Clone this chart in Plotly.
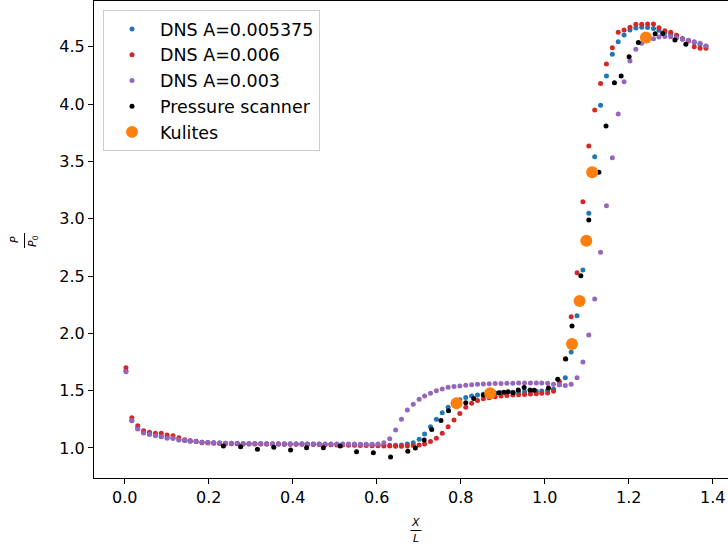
import plotly.graph_objects as go

# Shared DNS x grid (X/L)
dns_x = [0.003, 0.017, 0.031, 0.045, 0.059, 0.073, 0.087, 0.101, 0.115, 0.129,
         0.143, 0.156, 0.170, 0.184, 0.198, 0.212, 0.226, 0.240, 0.254, 0.268,
         0.282, 0.296, 0.310, 0.324, 0.338, 0.352, 0.366, 0.380, 0.394, 0.408,
         0.422, 0.435, 0.449, 0.463, 0.477, 0.491, 0.505, 0.519, 0.533, 0.547,
         0.561, 0.575, 0.589, 0.603, 0.617, 0.631, 0.645, 0.659, 0.673, 0.687,
         0.701, 0.714, 0.728, 0.742, 0.756, 0.770, 0.784, 0.798, 0.812, 0.826,
         0.840, 0.854, 0.868, 0.882, 0.896, 0.910, 0.924, 0.938, 0.952, 0.966,
         0.980, 0.993, 1.007, 1.021, 1.035, 1.049, 1.063, 1.077, 1.091, 1.105,
         1.119, 1.133, 1.147, 1.161, 1.175, 1.189, 1.203, 1.217, 1.231, 1.245,
         1.259, 1.272, 1.286, 1.300, 1.314, 1.328, 1.342, 1.356, 1.370, 1.384]

dns_a0053_y = [1.67, 1.24, 1.17, 1.135, 1.12, 1.11, 1.10, 1.09, 1.085, 1.072,
               1.065, 1.06, 1.055, 1.05, 1.047, 1.045, 1.043, 1.04, 1.04, 1.038,
               1.037, 1.037, 1.036, 1.036, 1.035, 1.035, 1.035, 1.035, 1.034, 1.034,
               1.034, 1.033, 1.033, 1.033, 1.032, 1.032, 1.032, 1.031, 1.03, 1.03,
               1.029, 1.028, 1.027, 1.026, 1.025, 1.024, 1.024, 1.026, 1.033, 1.045,
               1.075, 1.121, 1.185, 1.25, 1.307, 1.355, 1.395, 1.42, 1.44, 1.453,
               1.462, 1.469, 1.474, 1.478, 1.481, 1.484, 1.486, 1.488, 1.49, 1.492,
               1.494, 1.497, 1.502, 1.515, 1.55, 1.613, 1.837, 2.154, 2.552, 3.047,
               3.541, 3.99, 4.245, 4.434, 4.545, 4.603, 4.647, 4.665, 4.67, 4.668,
               4.66, 4.645, 4.625, 4.607, 4.59, 4.572, 4.555, 4.538, 4.522, 4.505]

dns_a006_y = [1.70, 1.263, 1.194, 1.15, 1.136, 1.127, 1.127, 1.113, 1.107, 1.089,
              1.072, 1.062, 1.058, 1.045, 1.042, 1.04, 1.038, 1.037, 1.036, 1.036,
              1.035, 1.035, 1.034, 1.034, 1.034, 1.033, 1.033, 1.032, 1.032, 1.031,
              1.031, 1.03, 1.03, 1.029, 1.028, 1.027, 1.026, 1.025, 1.024, 1.022,
              1.021, 1.02, 1.019, 1.018, 1.017, 1.016, 1.015, 1.015, 1.016, 1.02,
              1.025, 1.035, 1.055, 1.085, 1.127, 1.185, 1.243, 1.30, 1.355, 1.39,
              1.413, 1.428, 1.438, 1.446, 1.452, 1.457, 1.461, 1.464, 1.467, 1.47,
              1.473, 1.476, 1.48, 1.495, 1.58, 1.778, 2.145, 2.529, 3.148, 3.634,
              3.948, 4.18, 4.35, 4.492, 4.627, 4.647, 4.67, 4.696, 4.696, 4.699,
              4.699, 4.667, 4.64, 4.627, 4.60, 4.568, 4.55, 4.50, 4.487, 4.487]

dns_a003_y = [1.665, 1.237, 1.165, 1.13, 1.119, 1.107, 1.098, 1.084, 1.084, 1.069,
              1.065, 1.058, 1.055, 1.05, 1.048, 1.045, 1.043, 1.041, 1.04, 1.04,
              1.039, 1.039, 1.038, 1.038, 1.038, 1.037, 1.037, 1.037, 1.036, 1.036,
              1.036, 1.035, 1.035, 1.035, 1.035, 1.034, 1.034, 1.034, 1.033, 1.033,
              1.032, 1.031, 1.031, 1.034, 1.045, 1.08, 1.157, 1.25, 1.33, 1.38,
              1.424, 1.453, 1.476, 1.499, 1.514, 1.529, 1.536, 1.541, 1.546, 1.55,
              1.555, 1.558, 1.56, 1.562, 1.563, 1.565, 1.565, 1.566, 1.566, 1.566,
              1.566, 1.566, 1.565, 1.555, 1.55, 1.545, 1.556, 1.613, 1.75, 1.985,
              2.30, 2.707, 3.113, 3.532, 3.914, 4.196, 4.376, 4.478, 4.53, 4.555,
              4.57, 4.585, 4.59, 4.587, 4.58, 4.567, 4.557, 4.545, 4.53, 4.507]

scanner_x = [0.235, 0.276, 0.316, 0.355, 0.395, 0.433, 0.473, 0.513, 0.552, 0.592,
             0.633, 0.674, 0.692, 0.713, 0.731, 0.753, 0.771, 0.812, 0.831, 0.854,
             0.872, 0.891, 0.903, 0.913, 0.925, 0.937, 0.951, 0.965, 0.975, 1.009,
             1.031, 1.050, 1.065, 1.086, 1.105, 1.129, 1.146, 1.166, 1.182, 1.201,
             1.223, 1.263, 1.281, 1.310, 1.336]
scanner_y = [1.017, 1.010, 0.988, 1.005, 0.982, 1.002, 1.002, 1.017, 0.967, 0.958,
             0.920, 0.970, 1.000, 1.069, 1.160, 1.240, 1.325, 1.395, 1.430, 1.462,
             1.472, 1.482, 1.485, 1.490, 1.482, 1.505, 1.527, 1.505, 1.502, 1.523,
             1.600, 1.775, 2.064, 2.503, 2.988, 3.405, 3.809, 4.187, 4.245, 4.414,
             4.537, 4.615, 4.617, 4.559, 4.522]

kulite_x = [0.790, 0.870, 1.065, 1.083, 1.099, 1.113, 1.241]
kulite_y = [1.389, 1.476, 1.907, 2.282, 2.808, 3.405, 4.582]

x_ticks = [0.0, 0.2, 0.4, 0.6, 0.8, 1.0, 1.2, 1.4]
y_ticks = [1.0, 1.5, 2.0, 2.5, 3.0, 3.5, 4.0, 4.5]

FONT = "DejaVu Sans"

fig = go.Figure()
series = [
    ("DNS A=0.005375", dns_x, dns_a0053_y, "#1f77b4", 5),
    ("DNS A=0.006", dns_x, dns_a006_y, "#d62728", 5),
    ("DNS A=0.003", dns_x, dns_a003_y, "#9467bd", 5),
    ("Pressure scanner", scanner_x, scanner_y, "#000000", 5),
    ("Kulites", kulite_x, kulite_y, "#ff7f0e", 12),
]
for i, (name, xs, ys, col, sz) in enumerate(series):
    fig.add_trace(go.Scatter(
        x=xs, y=ys, mode="markers", name=name, legendgroup=f"g{i}",
        marker=dict(color=col, size=sz, line=dict(width=0)),
    ))

# plot area: x 94..728 px, y 1..478 px
L, R, T, B = 94, 728, 1, 478
W, H = R - L, B - T

def px(x):
    return (x - L) / W

def py(y):
    return (B - y) / H

anns = [
    dict(text="<i>X</i>", x=px(416), y=py(522), showarrow=False, xref="paper", yref="paper",
         font=dict(family=FONT, size=11, color="black"), xanchor="center", yanchor="middle"),
    dict(text="<i>L</i>", x=px(416), y=py(538), showarrow=False, xref="paper", yref="paper",
         font=dict(family=FONT, size=11, color="black"), xanchor="center", yanchor="middle"),
    dict(text="<i>P</i>", x=px(15), y=py(240), showarrow=False, xref="paper", yref="paper",
         textangle=-90, font=dict(family=FONT, size=11, color="black"),
         xanchor="center", yanchor="middle"),
    dict(text="<i>P</i><sub>0</sub>", x=px(33), y=py(241), showarrow=False, xref="paper",
         yref="paper", textangle=-90, font=dict(family=FONT, size=11, color="black"),
         xanchor="center", yanchor="middle"),
]
shapes = [
    dict(type="line", xref="paper", yref="paper", x0=px(410.5), x1=px(421.5),
         y0=py(530.5), y1=py(530.5), line=dict(color="black", width=1)),
    dict(type="line", xref="paper", yref="paper", x0=px(24.5), x1=px(24.5),
         y0=py(233), y1=py(248), line=dict(color="black", width=1)),
]

fig.update_layout(
    width=728, height=548,
    margin=dict(l=L, r=728 - R, t=T, b=548 - B, pad=0),
    paper_bgcolor="white", plot_bgcolor="white",
    font=dict(family=FONT, size=16, color="black"),
    showlegend=True,
    legend=dict(x=px(103), y=py(10), xanchor="left", yanchor="top",
                bgcolor="rgba(255,255,255,0.8)", bordercolor="#cccccc", borderwidth=1,
                font=dict(family=FONT, size=17.5, color="black"),
                tracegroupgap=0, itemsizing="trace", itemwidth=46),
    annotations=anns,
    shapes=shapes,
)
fig.update_xaxes(range=[-0.0731, 1.4364], tickvals=x_ticks, tickformat=".1f",
                 showline=True, mirror=True, linecolor="black", linewidth=1,
                 ticks="outside", ticklen=5, tickwidth=1, tickcolor="black",
                 showgrid=False, zeroline=False,
                 tickfont=dict(family=FONT, size=16, color="black"))
fig.update_yaxes(range=[0.7373, 4.8997], tickvals=y_ticks, tickformat=".1f",
                 showline=True, mirror=False, linecolor="black", linewidth=1,
                 ticks="outside", ticklen=5, tickwidth=1, tickcolor="black",
                 showgrid=False, zeroline=False,
                 tickfont=dict(family=FONT, size=16, color="black"))

fig.write_html("out.html")
